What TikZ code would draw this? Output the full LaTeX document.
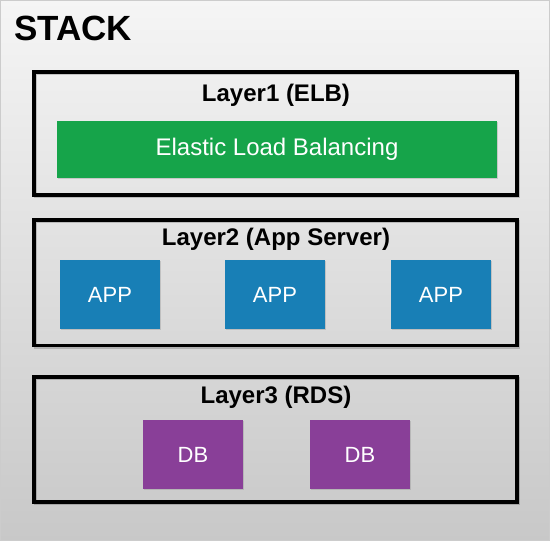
\documentclass[tikz,border=0pt]{standalone}
\usepackage{fontspec}
\setmainfont{Liberation Sans}
\usetikzlibrary{shadows}
\definecolor{elbgreen}{RGB}{22,164,74}
\definecolor{appblue}{RGB}{24,127,182}
\definecolor{dbpurple}{RGB}{137,63,152}
\tikzset{
  layerbox/.style={draw=black, line width=3.8pt},
  layershadow/.style={draw=black, draw opacity=0.18, line width=3.8pt, xshift=1.5pt, yshift=-1.5pt},
  svcbox/.style={inner sep=0pt, text=white, drop shadow={shadow xshift=1.2pt, shadow yshift=-1.2pt, opacity=0.3}},
  svcfont/.style={font=\fontsize{22}{26}\selectfont},
  layertitle/.style={anchor=base, font=\fontsize{24}{28}\selectfont\bfseries},
}
\begin{document}
\begin{tikzpicture}[x=1pt,y=-1pt]
\useasboundingbox (0,0) rectangle (550,541);
\shade[top color={rgb,255:red,245;green,245;blue,245}, bottom color={rgb,255:red,200;green,200;blue,200}] (0,0) rectangle (550,541);
\draw[gray!40, line width=0.6pt] (0.3,0.3) rectangle (549.7,540.7);
\node[anchor=base west, inner sep=0pt, font=\fontsize{35}{41}\selectfont\bfseries] (stack) at (14,40) {STACK};
% Layer 1
\draw[layershadow] (34,72) rectangle (517,195);
\draw[layerbox] (34,72) rectangle (517,195);
\node[layertitle] (t1) at (276,101) {Layer1 (ELB)};
\node[svcbox, fill=elbgreen, minimum width=440pt, minimum height=57pt, font=\fontsize{24}{28}\selectfont] (elb) at (277,149.5) {Elastic Load Balancing};
% Layer 2
\draw[layershadow] (34,220) rectangle (517,345.5);
\draw[layerbox] (34,220) rectangle (517,345.5);
\node[layertitle] (t2) at (276,245) {Layer2 (App Server)};
\node[svcbox, svcfont, fill=appblue, minimum width=100pt, minimum height=69pt] (app1) at (110,294.5) {APP};
\node[svcbox, svcfont, fill=appblue, minimum width=100pt, minimum height=69pt] (app2) at (275,294.5) {APP};
\node[svcbox, svcfont, fill=appblue, minimum width=100pt, minimum height=69pt] (app3) at (441,294.5) {APP};
% Layer 3
\draw[layershadow] (34,377) rectangle (517,502);
\draw[layerbox] (34,377) rectangle (517,502);
\node[layertitle] (t3) at (276,403) {Layer3 (RDS)};
\node[svcbox, svcfont, fill=dbpurple, minimum width=100pt, minimum height=69pt] (db1) at (193,454.5) {DB};
\node[svcbox, svcfont, fill=dbpurple, minimum width=100pt, minimum height=69pt] (db2) at (360,454.5) {DB};
\end{tikzpicture}
\end{document}
